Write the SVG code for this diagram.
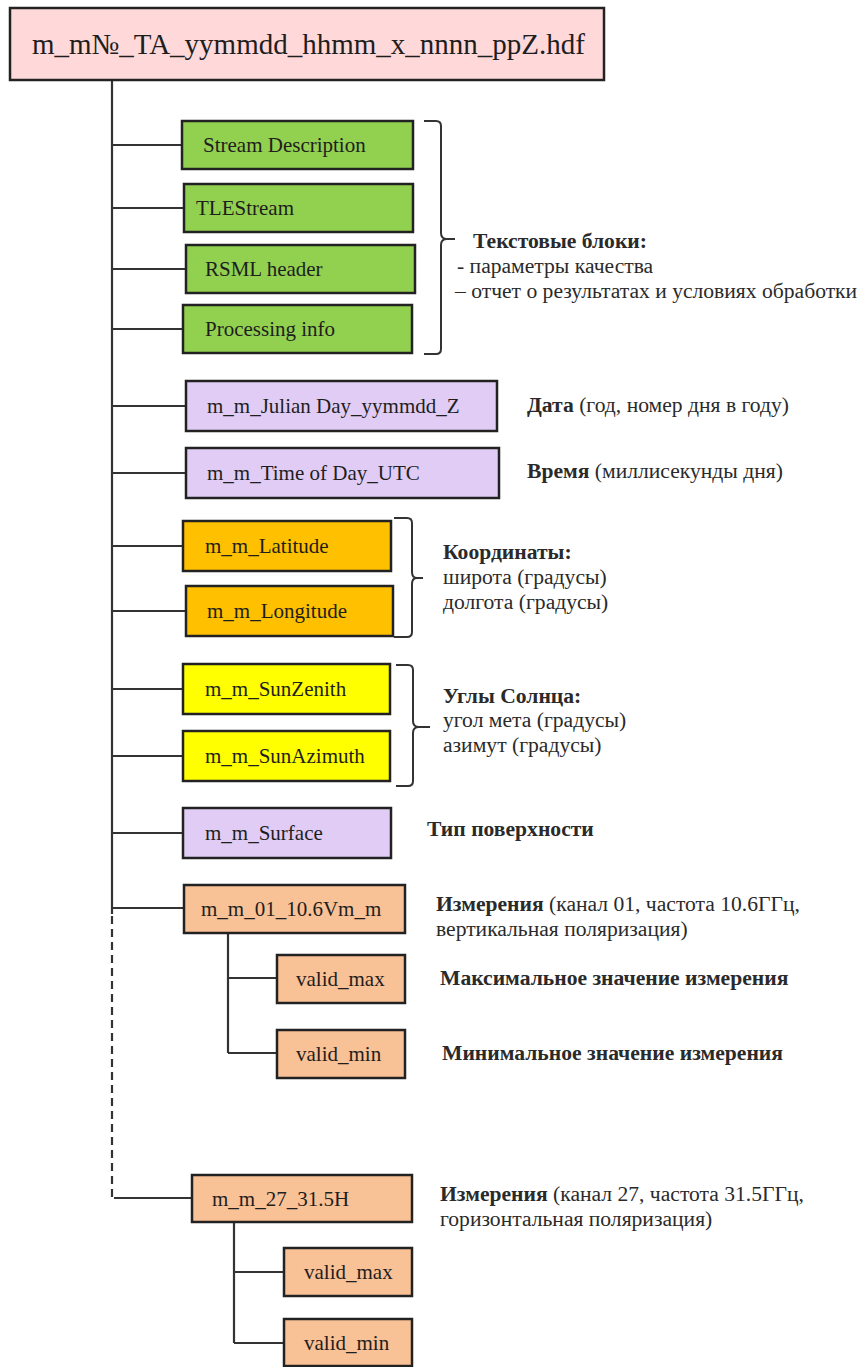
<svg xmlns="http://www.w3.org/2000/svg" width="863" height="1367" viewBox="0 0 863 1367">
<style>
.box{stroke:#222;stroke-width:2.5}
.t{font-family:"Liberation Serif","Times New Roman",serif;font-size:21px;fill:#1e1e1e}
.l{font-family:"Liberation Serif","Times New Roman",serif;font-size:21.6px;fill:#2a2a2a}
.b{font-weight:bold}
.ln{stroke:#333;stroke-width:2.2;fill:none}
.br{stroke:#333;stroke-width:2;fill:none}
.green{fill:#92D050}.lav{fill:#E1CCF5}.orange{fill:#FFC000}.yellow{fill:#FFFF00}.salmon{fill:#F9C196}.pink{fill:#FFD9D9}
</style>
<rect width="863" height="1367" fill="#fff"/>
<g id="connectors">
<path class="ln" d="M112 80 V914"/>
<path class="ln" d="M112 916 V1198" stroke-dasharray="8 5"/>
<path class="ln" d="M112 145 H182 M112 208 H184 M112 269 H186 M112 329 H183 M112 406 H186 M112 473 H186 M112 546 H183 M112 611 H186 M112 689 H183 M112 756 H183 M112 833 H183 M112 908 H184 M114 1198 H192"/>
<path class="ln" d="M228 933 V1053 M228 978 H277 M228 1053 H277"/>
<path class="ln" d="M234 1222 V1343 M234 1272 H284 M234 1343 H284"/>
<path class="br" d="M424 121 H436 Q441 121 441 126 V233 Q441 239 447 239 H455 M447 239 Q441 239 441 245 V349 Q441 354 436 354 H424"/>
<path class="br" d="M394 518 H407 Q412 518 412 523 V572 Q412 578 417 578 H423 M417 578 Q412 578 412 584 V632 Q412 637 407 637 H394"/>
<path class="br" d="M396 665 H408 Q413 665 413 670 V721 Q413 727 419 727 H430 M419 727 Q413 727 413 733 V781 Q413 786 408 786 H396"/>
</g>
<g id="root"><rect class="box pink" x="10" y="8" width="594" height="72"/><text class="t" x="32" y="54" style="font-size:29px">m_m№_TA_yymmdd_hhmm_x_nnnn_ppZ.hdf</text></g>
<g id="stream-description"><rect class="box green" x="182" y="121" width="231" height="48"/><text class="t" x="203" y="152">Stream Description</text></g>
<g id="tlestream"><rect class="box green" x="184" y="184" width="229" height="48"/><text class="t" x="196" y="215">TLEStream</text></g>
<g id="rsml-header"><rect class="box green" x="186" y="245" width="229" height="48"/><text class="t" x="205" y="276">RSML header</text></g>
<g id="processing-info"><rect class="box green" x="183" y="305" width="229" height="48"/><text class="t" x="205" y="336">Processing info</text></g>
<g id="text-blocks-label"><text class="l b" x="473" y="248">Текстовые блоки:</text><text class="l" x="457" y="273">- параметры качества</text><text class="l" x="455" y="298">– отчет о результатах и условиях обработки</text></g>
<g id="julian-day"><rect class="box lav" x="186" y="381" width="311" height="50"/><text class="t" x="207" y="413">m_m_Julian Day_yymmdd_Z</text></g>
<g id="date-label"><text class="l" x="527" y="412"><tspan class="b">Дата</tspan> (год, номер дня в году)</text></g>
<g id="time-of-day"><rect class="box lav" x="186" y="448" width="313" height="50"/><text class="t" x="207" y="480">m_m_Time of Day_UTC</text></g>
<g id="time-label"><text class="l" x="527" y="478"><tspan class="b">Время</tspan> (миллисекунды дня)</text></g>
<g id="latitude"><rect class="box orange" x="183" y="521" width="208" height="50"/><text class="t" x="205" y="553">m_m_Latitude</text></g>
<g id="longitude"><rect class="box orange" x="186" y="586" width="207" height="50"/><text class="t" x="207" y="618">m_m_Longitude</text></g>
<g id="coords-label"><text class="l b" x="443" y="559">Координаты:</text><text class="l" x="443" y="584">широта (градусы)</text><text class="l" x="443" y="609">долгота (градусы)</text></g>
<g id="sun-zenith"><rect class="box yellow" x="183" y="664" width="207" height="50"/><text class="t" x="205" y="696">m_m_SunZenith</text></g>
<g id="sun-azimuth"><rect class="box yellow" x="183" y="731" width="207" height="50"/><text class="t" x="205" y="763">m_m_SunAzimuth</text></g>
<g id="sun-label"><text class="l b" x="443" y="703">Углы Солнца:</text><text class="l" x="443" y="727">угол мета (градусы)</text><text class="l" x="443" y="752">азимут (градусы)</text></g>
<g id="surface"><rect class="box lav" x="183" y="808" width="208" height="50"/><text class="t" x="205" y="840">m_m_Surface</text></g>
<g id="surface-label"><text class="l b" x="427" y="836">Тип поверхности</text></g>
<g id="ch01"><rect class="box salmon" x="184" y="885" width="221" height="48"/><text class="t" x="201" y="916">m_m_01_10.6Vm_m</text></g>
<g id="ch01-label"><text class="l" x="436" y="911"><tspan class="b">Измерения</tspan> (канал 01, частота 10.6ГГц,</text><text class="l" x="436" y="936">вертикальная поляризация)</text></g>
<g id="ch01-valid-max"><rect class="box salmon" x="277" y="955" width="128" height="48"/><text class="t" x="296" y="986">valid_max</text></g>
<g id="max-label"><text class="l b" x="440" y="985">Максимальное значение измерения</text></g>
<g id="ch01-valid-min"><rect class="box salmon" x="277" y="1030" width="128" height="48"/><text class="t" x="296" y="1061">valid_min</text></g>
<g id="min-label"><text class="l b" x="442" y="1060">Минимальное значение измерения</text></g>
<g id="ch27"><rect class="box salmon" x="192" y="1175" width="220" height="47"/><text class="t" x="212" y="1206">m_m_27_31.5H</text></g>
<g id="ch27-label"><text class="l" x="440" y="1201"><tspan class="b">Измерения</tspan> (канал 27, частота 31.5ГГц,</text><text class="l" x="440" y="1226">горизонтальная поляризация)</text></g>
<g id="ch27-valid-max"><rect class="box salmon" x="284" y="1248" width="128" height="48"/><text class="t" x="304" y="1279">valid_max</text></g>
<g id="ch27-valid-min"><rect class="box salmon" x="284" y="1319" width="128" height="47"/><text class="t" x="304" y="1350">valid_min</text></g>
</svg>
